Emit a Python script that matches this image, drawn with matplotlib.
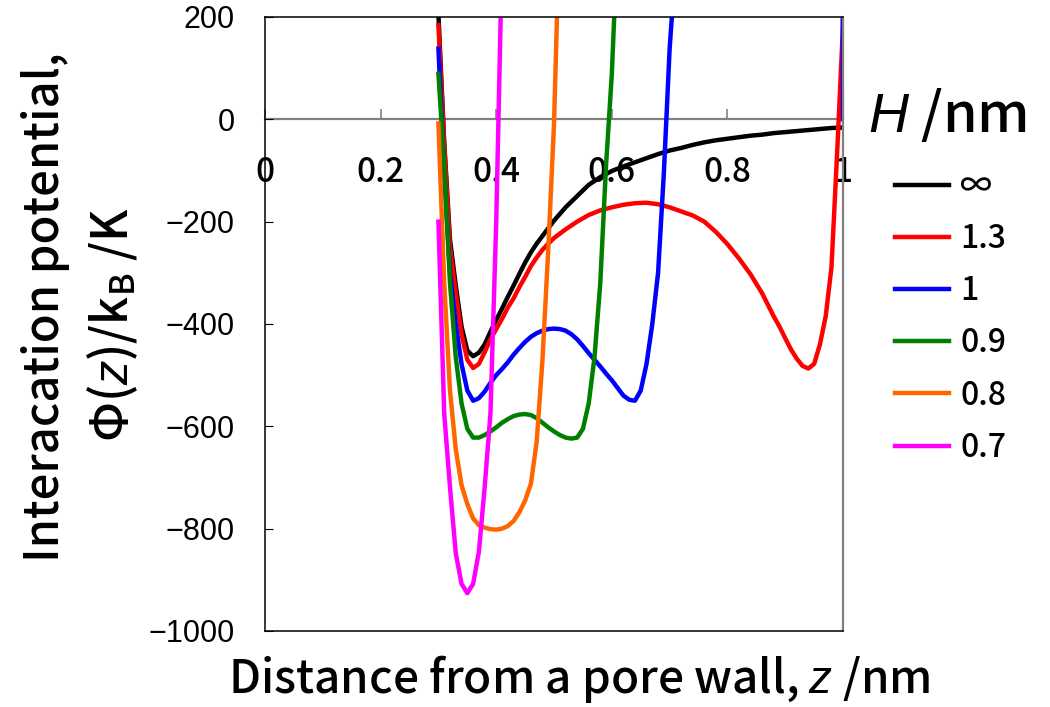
import numpy as np
import matplotlib
matplotlib.use("Agg")
from matplotlib import pyplot as plt
from matplotlib.lines import Line2D

# H = infinity
z_inf = [0.30, 0.31, 0.32, 0.33, 0.34, 0.35, 0.36, 0.37, 0.38, 0.39, 0.40, 0.41, 0.42,
         0.43, 0.44, 0.45, 0.46, 0.47, 0.48, 0.49, 0.50, 0.52, 0.54, 0.56, 0.58, 0.60,
         0.62, 0.64, 0.66, 0.68, 0.70, 0.72, 0.74, 0.76, 0.78, 0.80, 0.82, 0.84, 0.86,
         0.88, 0.90, 0.92, 0.94, 0.96, 0.98, 1.00]
phi_inf = [205, -45, -235, -325, -405, -452, -463, -456, -440, -415, -392, -370, -347,
           -325, -302, -280, -260, -243, -228, -213, -198, -172, -150, -128, -113, -101,
           -92, -84, -76, -68, -61, -56, -50, -45, -41, -38, -35, -32, -30,
           -27, -25, -23, -21, -19, -17, -16]

# H = 1.3 nm
z_13 = [0.30, 0.31, 0.32, 0.33, 0.34, 0.35, 0.36, 0.37, 0.38, 0.39, 0.40, 0.41, 0.42,
        0.43, 0.44, 0.45, 0.46, 0.47, 0.48, 0.49, 0.50, 0.52, 0.54, 0.56, 0.58, 0.60,
        0.62, 0.64, 0.66, 0.68, 0.70, 0.72, 0.74, 0.76, 0.78, 0.80, 0.82, 0.84, 0.86,
        0.88, 0.89, 0.90, 0.91, 0.92, 0.93, 0.94, 0.95, 0.96, 0.97, 0.98, 0.99, 1.00]
phi_13 = [184, -50, -250, -340, -420, -470, -486, -478, -455, -430, -410, -390, -368,
          -350, -328, -308, -287, -270, -255, -243, -232, -215, -200, -187, -178, -172,
          -167, -164, -163, -166, -172, -180, -188, -200, -220, -244, -272, -303, -340,
          -385, -405, -428, -450, -468, -482, -487, -478, -440, -385, -289, -60, 184]

# H = 1 nm
z_10 = [0.30, 0.31, 0.32, 0.33, 0.34, 0.35, 0.36, 0.37, 0.38, 0.39, 0.40, 0.41, 0.42,
        0.43, 0.44, 0.45, 0.46, 0.47, 0.48, 0.49, 0.50, 0.51, 0.52, 0.53, 0.54, 0.55,
        0.56, 0.57, 0.58, 0.59, 0.60, 0.61, 0.62, 0.63, 0.64, 0.65, 0.66, 0.67, 0.68,
        0.69, 0.70, 0.71, 0.72, 1.00]
phi_10 = [138, -105, -300, -400, -478, -530, -550, -545, -532, -515, -500, -488, -475,
          -460, -447, -435, -425, -418, -413, -410, -409, -410, -413, -420, -430, -443,
          -457, -470, -483, -497, -510, -525, -540, -548, -550, -530, -478, -400, -300,
          -105, 138, 300, 1e5, 0]

# H = 0.9 nm
z_09 = [0.30, 0.31, 0.32, 0.33, 0.34, 0.35, 0.36, 0.37, 0.38, 0.39, 0.40, 0.41, 0.42,
        0.43, 0.44, 0.45, 0.46, 0.47, 0.48, 0.49, 0.50, 0.51, 0.52, 0.53, 0.54, 0.55,
        0.56, 0.57, 0.58, 0.59, 0.60, 0.61]
phi_09 = [89, -90, -320, -465, -555, -605, -622, -622, -617, -610, -602, -593, -586,
          -580, -577, -576, -578, -584, -593, -602, -610, -617, -622, -624, -622, -605,
          -555, -465, -320, -90, 89, 360]

# H = 0.8 nm
z_08 = [0.30, 0.31, 0.32, 0.33, 0.34, 0.35, 0.36, 0.37, 0.38, 0.39, 0.40, 0.41, 0.42,
        0.43, 0.44, 0.45, 0.46, 0.47, 0.48, 0.49, 0.50, 0.51]
phi_08 = [-8, -320, -530, -645, -715, -752, -780, -793, -798, -801, -802, -800, -795,
          -785, -768, -745, -712, -630, -470, -255, -8, 400]

# H = 0.7 nm
z_07 = [0.30, 0.31, 0.32, 0.33, 0.34, 0.35, 0.36, 0.37, 0.38, 0.39, 0.40, 0.41]
phi_07 = [-200, -575, -719, -848, -908, -926, -908, -845, -719, -575, -200, 320]

series_labels = ["\u221e", "1.3", "1", "0.9", "0.8", "0.7"]
series_colors = ["#000000", "#FF0000", "#0000FF", "#008000", "#FF6600", "#FF00FF"]
x_ticks = [0, 0.2, 0.4, 0.6, 0.8, 1]
x_ticklabels = ["0", "0.2", "0.4", "0.6", "0.8", "1"]
y_ticks = [-1000, -800, -600, -400, -200, 0, 200]

plt.rcParams["font.family"] = ["Noto Sans CJK JP", "DejaVu Sans"]
plt.rcParams["font.weight"] = 500
plt.rcParams["mathtext.fontset"] = "custom"
plt.rcParams["mathtext.rm"] = "Noto Sans CJK JP"
plt.rcParams["mathtext.it"] = "Liberation Sans:italic"

fig = plt.figure(figsize=(10.5, 7.07), dpi=100)
ax = fig.add_axes([0.2524, 0.1075, 0.5505, 0.8685])

data = [(z_inf, phi_inf), (z_13, phi_13), (z_10, phi_10),
        (z_09, phi_09), (z_08, phi_08), (z_07, phi_07)]
for (z, phi), col in zip(data, series_colors):
    ax.plot(z, phi, color=col, lw=3.2, solid_joinstyle="round")

ax.set_xlim(0, 1)
ax.set_ylim(-1000, 200)
ax.set_yticks(y_ticks)
ax.tick_params(axis="y", direction="in", length=6, pad=22)
ax.tick_params(axis="x", bottom=False, labelbottom=False)
for lab in ax.get_yticklabels():
    lab.set_fontfamily("Liberation Sans")
    lab.set_fontsize(22)

for s in ["left", "top", "bottom"]:
    ax.spines[s].set_color("black")
    ax.spines[s].set_linewidth(1.1)
ax.spines["right"].set_color("#808080")
ax.spines["right"].set_linewidth(1.6)

# x axis drawn through phi = 0
sec = ax.secondary_xaxis(0, transform=ax.transData)
sec.set_xticks(x_ticks)
sec.set_xticklabels(x_ticklabels)
sec.tick_params(axis="x", direction="in", length=7, color="#808080", width=1.2,
                labelsize=24, pad=26)
sec.spines["bottom"].set_color("#808080")
sec.spines["bottom"].set_linewidth(1.6)

fig.text(0.552, 0.040, "Distance from a pore wall, $z$ /nm", fontsize=33,
         ha="center", va="center")
fig.text(0.043, 0.565, "Interacation potential,", fontsize=34, rotation=90,
         ha="center", va="center")
fig.text(0.107, 0.541, r"$\Phi(z)/\mathrm{k}_\mathrm{B}$ /K", fontsize=35, rotation=90,
         ha="center", va="center")

fig.text(0.827, 0.838, "$H$ /nm", fontsize=40, ha="left", va="center")
handles = [Line2D([], [], color=c, lw=3.2) for c in series_colors]
ax.legend(handles, series_labels, loc="upper left", bbox_to_anchor=(0.852, 0.758),
          bbox_transform=fig.transFigure, frameon=False, fontsize=23,
          handlelength=1.7, handletextpad=0.35, labelspacing=0.63,
          borderpad=0, borderaxespad=0)

fig.savefig("out.png", dpi=100)
